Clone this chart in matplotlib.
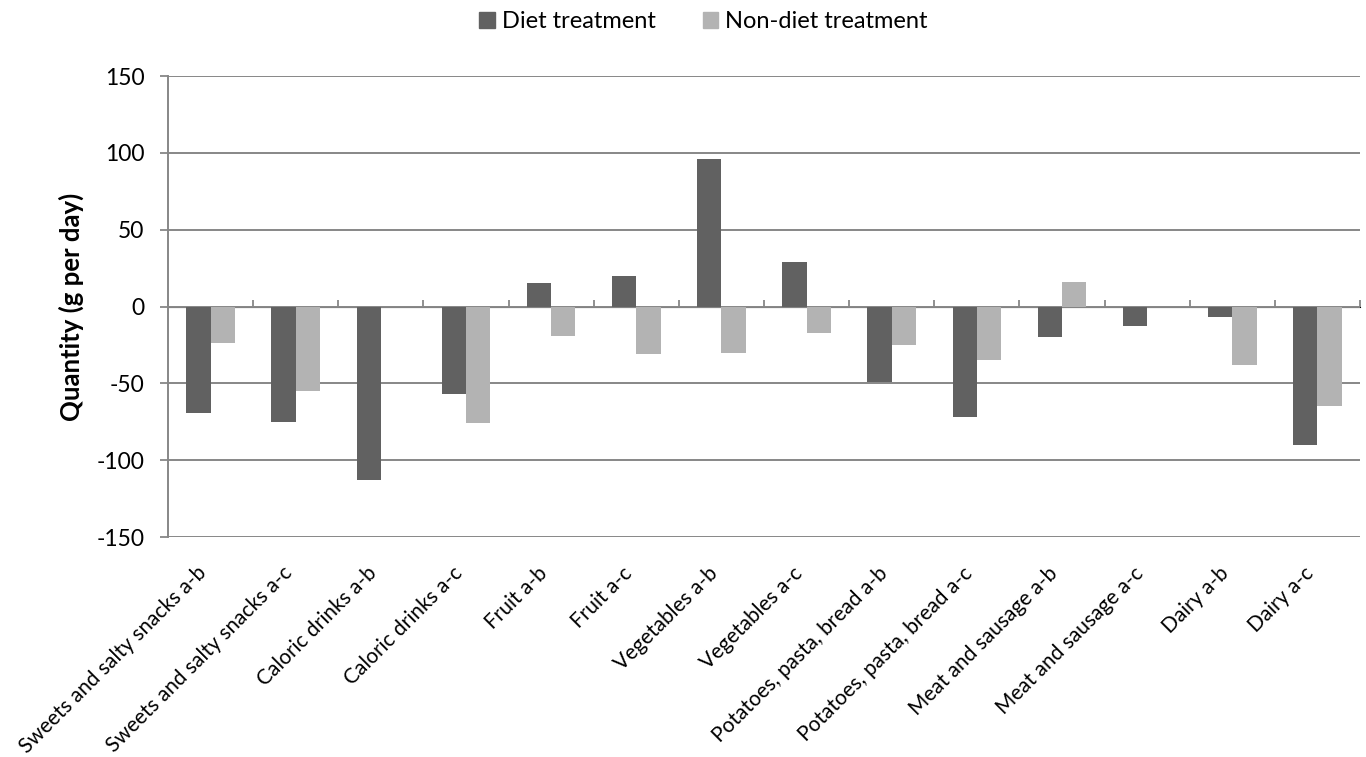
import matplotlib
matplotlib.use("Agg")
import matplotlib.pyplot as plt
import matplotlib.transforms as mtransforms
from matplotlib.patches import Patch
import numpy as np

plt.rcParams['font.family'] = ['Lato', 'DejaVu Sans']
plt.rcParams['axes.unicode_minus'] = False

categories = [
    "Sweets and salty snacks a-b", "Sweets and salty snacks a-c",
    "Caloric drinks a-b", "Caloric drinks a-c",
    "Fruit a-b", "Fruit a-c",
    "Vegetables a-b", "Vegetables a-c",
    "Potatoes, pasta, bread a-b", "Potatoes, pasta, bread a-c",
    "Meat and sausage a-b", "Meat and sausage a-c",
    "Dairy a-b", "Dairy a-c",
]
diet = [-69, -75, -113, -57, 15, 20, 96, 29, -49, -72, -20, -13, -7, -90]
non_diet = [-24, -55, 0, -76, -19, -31, -30, -17, -25, -35, 16, 0, -38, -65]
y_ticks = [-150, -100, -50, 0, 50, 100, 150]

dark = "#616161"
light = "#b3b3b3"
grid_c = "#878787"

fig = plt.figure(figsize=(13.66, 7.57), dpi=100)
ax = fig.add_axes([0.123, 0.2906, 0.8726, 0.609])

x = np.arange(len(categories))
w = 0.285
ax.bar(x - w / 2, diet, w, color=dark, zorder=3)
ax.bar(x + w / 2, non_diet, w, color=light, zorder=3)

ax.set_xlim(-0.5, len(categories) - 0.5)
ax.set_ylim(-150, 150)
ax.set_yticks(y_ticks)
ax.yaxis.grid(True, color=grid_c, linewidth=1.4, zorder=0)
ax.set_axisbelow(True)
ax.tick_params(axis='y', labelsize=16.5, length=6, width=1.3, color=grid_c, pad=11)

for s in ['top', 'right', 'bottom']:
    ax.spines[s].set_visible(False)
ax.spines['left'].set_color(grid_c)
ax.spines['left'].set_linewidth(1.4)

# category labels below the plot area
ax.set_xticks(x)
ax.set_xticklabels(categories, rotation=45, ha='right', va='center',
                   rotation_mode='anchor', fontsize=15)
ax.tick_params(axis='x', length=0, pad=0)
offset = mtransforms.ScaledTranslation(-7 / 100, -33 / 100, fig.dpi_scale_trans)
for lbl in ax.get_xticklabels():
    lbl.set_transform(lbl.get_transform() + offset)

# zero axis line with boundary ticks
zero_ax = ax.secondary_xaxis(0.5)
zero_ax.set_xticks(np.arange(len(categories) + 1) - 0.5)
zero_ax.set_xticklabels([])
zero_ax.tick_params(axis='x', direction='out', length=5, color=grid_c, width=1.3)
zero_ax.spines['bottom'].set_color(grid_c)
zero_ax.spines['bottom'].set_linewidth(2)
zero_ax.spines['bottom'].set_zorder(4)

ax.set_ylabel("Quantity (g per day)", fontsize=18.5, fontweight='bold', labelpad=9)

handles = [Patch(color=dark), Patch(color=light)]
fig.legend(handles, ["Diet treatment", "Non-diet treatment"], loc='center',
           bbox_to_anchor=(0.515, 0.971), ncol=2, frameon=False, fontsize=17,
           handlelength=0.65, handleheight=0.65, handletextpad=0.3, columnspacing=2.0)

fig.savefig("out.png", dpi=100, facecolor='white')
